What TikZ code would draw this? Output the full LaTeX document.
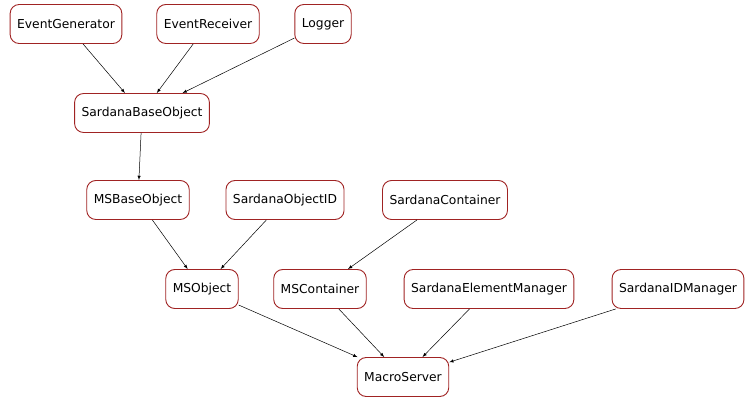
\documentclass[tikz,border=0pt]{standalone}
\usepackage{fontspec}
\setmainfont{DejaVu Sans}
\usetikzlibrary{positioning}
\tikzset{>=latex}
\definecolor{boxred}{RGB}{160,35,35}
\tikzset{
  cls/.style={draw=boxred,line width=0.9pt,rounded corners=9pt,fill=white,minimum height=39pt,
    inner xsep=7pt,font=\fontsize{12.3}{14}\selectfont},
  inh/.style={->,black,line width=0.5pt}
}
\begin{document}
\begin{tikzpicture}[x=1pt,y=-1pt]
  \useasboundingbox (0,0) rectangle (756,403);
  % top row
  \node[cls] (evgen)  at (66,24)  {EventGenerator};
  \node[cls] (evrec)  at (208,24) {EventReceiver};
  \node[cls] (logger) at (323,24) {Logger};
  % base
  \node[cls] (sbase)  at (142,113) {SardanaBaseObject};
  % third row
  \node[cls] (msbase) at (138,200) {MSBaseObject};
  \node[cls] (sobjid) at (285,200) {SardanaObjectID};
  \node[cls] (scont)  at (445,200) {SardanaContainer};
  % fourth row
  \node[cls] (msobj)  at (202,289) {MSObject};
  \node[cls] (mscont) at (320,289) {MSContainer};
  \node[cls] (selm)   at (489,289) {SardanaElementManager};
  \node[cls] (sidm)   at (678,289) {SardanaIDManager};
  % bottom
  \node[cls] (ms)     at (403,377) {MacroServer};

  \draw[inh] (evgen) -- (sbase);
  \draw[inh] (evrec) -- (sbase);
  \draw[inh] (logger) -- (sbase);
  \draw[inh] (sbase) -- (msbase);
  \draw[inh] (msbase) -- (msobj);
  \draw[inh] (sobjid) -- (msobj);
  \draw[inh] (scont) -- (mscont);
  \draw[inh] (msobj) -- (ms);
  \draw[inh] (mscont) -- (ms);
  \draw[inh] (selm) -- (ms);
  \draw[inh] (sidm) -- (ms);
\end{tikzpicture}
\end{document}
